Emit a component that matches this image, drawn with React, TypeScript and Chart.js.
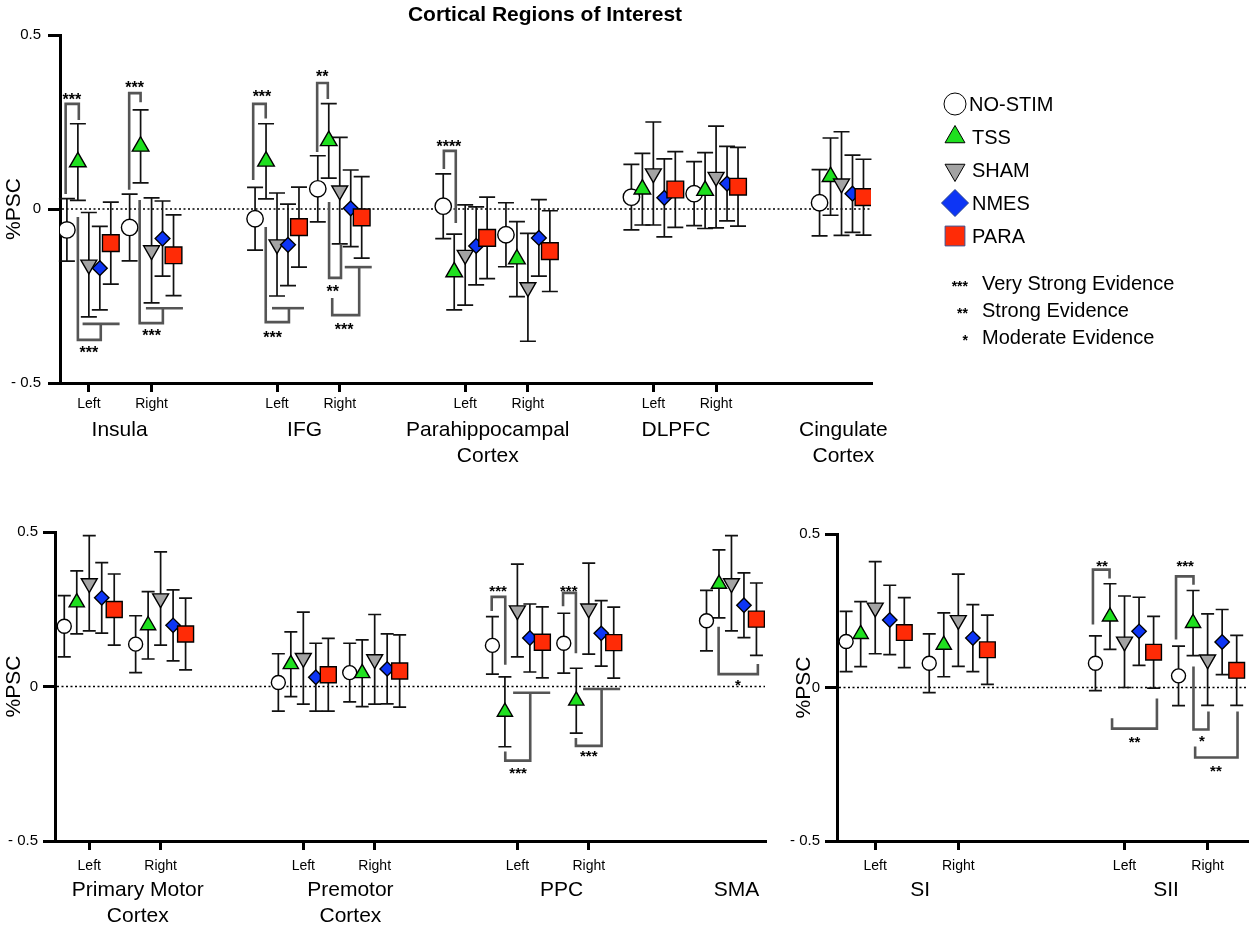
import React, { useEffect, useRef } from 'react';
import { Chart, registerables } from 'chart.js';
import { drawPoint } from 'chart.js/helpers';

Chart.register(...registerables);

const FONT = 'Arial, "Liberation Sans", Helvetica, sans-serif';

// ---------------- series / shared ----------------
const SERIES_NAMES = ['NO-STIM', 'TSS', 'SHAM', 'NMES', 'PARA'];
const EVIDENCE_STARS = ['***', '**', '*'];
const EVIDENCE_LABELS = ['Very Strong Evidence', 'Strong Evidence', 'Moderate Evidence'];
const Y_TICK_VALUES = [-0.5, 0, 0.5];
const Y_TICK_LABELS = ['- 0.5', '0', '0.5'];
const TITLE = 'Cortical Regions of Interest';

// ---------------- top panel (cortical) ----------------
const TOP_CATEGORY_POS = [0, 1, 3, 4, 6, 7, 9, 10, 12];
const TOP_TICK_POS = [0, 1, 3, 4, 6, 7, 9, 10];
const TOP_TICK_LABELS = ['Left', 'Right', 'Left', 'Right', 'Left', 'Right', 'Left', 'Right'];
const TOP_REGIONS = ['Insula', 'IFG', 'Parahippocampal\nCortex', 'DLPFC', 'Cingulate\nCortex'];
const TOP_REGION_POS = [0.49, 3.44, 6.36, 9.36, 12.03];
const TOP_NOSTIM = [-0.06, -0.053, -0.028, 0.058, 0.008, -0.074, 0.034, 0.044, 0.018];
const TOP_NOSTIM_SEM = [0.09, 0.096, 0.09, 0.095, 0.093, 0.092, 0.094, 0.092, 0.095];
const TOP_TSS = [0.135, 0.18, 0.137, 0.196, -0.181, -0.144, 0.057, 0.053, 0.093];
const TOP_TSS_SEM = [0.11, 0.105, 0.108, 0.107, 0.109, 0.108, 0.103, 0.109, 0.111];
const TOP_SHAM = [-0.16, -0.119, -0.102, 0.053, -0.132, -0.225, 0.102, 0.092, 0.073];
const TOP_SHAM_SEM = [0.15, 0.151, 0.148, 0.153, 0.144, 0.155, 0.148, 0.146, 0.149];
const TOP_NMES = [-0.17, -0.085, -0.103, 0.002, -0.106, -0.083, 0.032, 0.073, 0.044];
const TOP_NMES_SEM = [0.12, 0.108, 0.117, 0.11, 0.112, 0.11, 0.112, 0.107, 0.111];
const TOP_PARA = [-0.098, -0.133, -0.052, -0.024, -0.083, -0.121, 0.056, 0.064, 0.034];
const TOP_PARA_SEM = [0.118, 0.116, 0.115, 0.117, 0.117, 0.116, 0.109, 0.113, 0.109];
const TOP_BRACKETS = [
  { lines: [[[-0.37, 0.043], [-0.37, 0.302], [-0.16, 0.302], [-0.16, 0.256]]], stars: '***', at: [-0.27, 0.325] },
  { lines: [[[-0.175, -0.023], [-0.175, -0.376], [0.19, -0.376], [0.19, -0.33]], [[-0.1, -0.33], [0.49, -0.33]]], stars: '***', at: [0.0, -0.402] },
  { lines: [[[0.643, 0.055], [0.643, 0.333], [0.825, 0.333], [0.825, 0.307]]], stars: '***', at: [0.73, 0.359] },
  { lines: [[[0.81, 0.026], [0.81, -0.328], [1.18, -0.328], [1.18, -0.285]], [[0.91, -0.285], [1.5, -0.285]]], stars: '***', at: [1.0, -0.353] },
  { lines: [[[2.62, 0.083], [2.62, 0.302], [2.82, 0.302], [2.82, 0.26]]], stars: '***', at: [2.76, 0.333] },
  { lines: [[[2.82, -0.052], [2.82, -0.325], [3.19, -0.325], [3.19, -0.285]], [[2.92, -0.285], [3.43, -0.285]]], stars: '***', at: [2.93, -0.359] },
  { lines: [[[3.64, 0.164], [3.64, 0.362], [3.81, 0.362], [3.81, 0.316]]], stars: '**', at: [3.72, 0.39] },
  { lines: [[[3.83, 0.02], [3.83, -0.198], [4.02, -0.198], [4.02, -0.1]]], stars: '**', at: [3.89, -0.227] },
  { lines: [[[3.88, -0.256], [3.88, -0.305], [4.31, -0.305], [4.31, -0.167]], [[4.08, -0.167], [4.51, -0.167]]], stars: '***', at: [4.07, -0.336] },
  { lines: [[[5.66, 0.115], [5.66, 0.167], [5.85, 0.167], [5.85, -0.04]]], stars: '****', at: [5.74, 0.19] },
];

// ---------------- bottom-left panel (motor / parietal) ----------------
const MOTOR_CATEGORY_POS = [0, 1, 3, 4, 6, 7, 9];
const MOTOR_TICK_POS = [0, 1, 3, 4, 6, 7];
const MOTOR_TICK_LABELS = ['Left', 'Right', 'Left', 'Right', 'Left', 'Right'];
const MOTOR_REGIONS = ['Primary Motor\nCortex', 'Premotor\nCortex', 'PPC', 'SMA'];
const MOTOR_REGION_POS = [0.68, 3.66, 6.62, 9.07];
const MOTOR_NOSTIM = [0.195, 0.137, 0.013, 0.045, 0.133, 0.14, 0.213];
const MOTOR_NOSTIM_SEM = [0.099, 0.092, 0.093, 0.095, 0.093, 0.097, 0.098];
const MOTOR_TSS = [0.272, 0.198, 0.072, 0.043, -0.082, -0.046, 0.332];
const MOTOR_TSS_SEM = [0.102, 0.109, 0.105, 0.108, 0.113, 0.105, 0.11];
const MOTOR_SHAM = [0.334, 0.285, 0.092, 0.088, 0.246, 0.252, 0.334];
const MOTOR_SHAM_SEM = [0.154, 0.151, 0.149, 0.145, 0.15, 0.147, 0.154];
const MOTOR_NMES = [0.287, 0.198, 0.03, 0.057, 0.157, 0.172, 0.263];
const MOTOR_NMES_SEM = [0.114, 0.115, 0.11, 0.113, 0.11, 0.106, 0.105];
const MOTOR_PARA = [0.249, 0.17, 0.038, 0.05, 0.143, 0.142, 0.218];
const MOTOR_PARA_SEM = [0.115, 0.116, 0.118, 0.117, 0.115, 0.115, 0.117];
const MOTOR_BRACKETS = [
  { lines: [[[5.64, 0.244], [5.64, 0.29], [5.83, 0.29], [5.83, 0.07]]], stars: '***', at: [5.73, 0.319] },
  { lines: [[[5.83, -0.21], [5.83, -0.24], [6.18, -0.24], [6.18, -0.02]], [[5.94, -0.02], [6.46, -0.02]]], stars: '***', at: [6.01, -0.267] },
  { lines: [[[6.64, 0.26], [6.64, 0.303], [6.82, 0.303], [6.82, 0.108]]], stars: '***', at: [6.72, 0.322] },
  { lines: [[[6.82, -0.167], [6.82, -0.192], [7.18, -0.192], [7.18, -0.008]], [[6.92, -0.008], [7.44, -0.008]]], stars: '***', at: [7.0, -0.215] },
  { lines: [[[8.82, 0.193], [8.82, 0.04], [9.37, 0.04], [9.37, 0.073]]], stars: '*', at: [9.09, 0.015] },
];

// ---------------- bottom-right panel (somatosensory) ----------------
const SOMATO_CATEGORY_POS = [0, 1, 3, 4];
const SOMATO_TICK_POS = [0, 1, 3, 4];
const SOMATO_TICK_LABELS = ['Left', 'Right', 'Left', 'Right'];
const SOMATO_REGIONS = ['SI', 'SII'];
const SOMATO_REGION_POS = [0.54, 3.5];
const SOMATO_NOSTIM = [0.15, 0.079, 0.079, 0.038];
const SOMATO_NOSTIM_SEM = [0.098, 0.096, 0.089, 0.097];
const SOMATO_TSS = [0.174, 0.139, 0.231, 0.21];
const SOMATO_TSS_SEM = [0.106, 0.104, 0.107, 0.106];
const SOMATO_SHAM = [0.26, 0.219, 0.149, 0.091];
const SOMATO_SHAM_SEM = [0.15, 0.15, 0.149, 0.149];
const SOMATO_NMES = [0.22, 0.161, 0.183, 0.148];
const SOMATO_NMES_SEM = [0.113, 0.109, 0.111, 0.106];
const SOMATO_PARA = [0.179, 0.123, 0.115, 0.056];
const SOMATO_PARA_SEM = [0.114, 0.113, 0.117, 0.114];
const SOMATO_BRACKETS = [
  { lines: [[[2.62, 0.205], [2.62, 0.384], [2.82, 0.384], [2.82, 0.355]]], stars: '**', at: [2.73, 0.407] },
  { lines: [[[2.85, -0.1], [2.85, -0.134], [3.39, -0.134], [3.39, -0.036]]], stars: '**', at: [3.12, -0.166] },
  { lines: [[[3.62, 0.156], [3.62, 0.362], [3.83, 0.362], [3.83, 0.335]]], stars: '***', at: [3.73, 0.407] },
  { lines: [[[3.83, 0.068], [3.83, -0.137], [4.01, -0.137], [4.01, -0.078]]], stars: '*', at: [3.93, -0.163] },
  { lines: [[[3.85, -0.192], [3.85, -0.228], [4.36, -0.228], [4.36, -0.078]]], stars: '**', at: [4.1, -0.261] },
];

// ---------------- styles ----------------
const SERIES_FILL = ['#ffffff', '#1fe01f', '#a3a3a3', '#0d35f5', '#ff2b06'];
const SERIES_STYLE = ['circle', 'triangle', 'triangle', 'rectRot', 'rect'];
const SERIES_ROTATION = [0, 0, 180, 0, 0];
const SERIES_OFFSET = [-0.35, -0.175, 0, 0.175, 0.35];
const LEGEND_RADII = [11, 11.5, 11.5, 13.5, 14];
const LEGEND_BORDER = ['#000', '#000', '#000', '#23408f', '#3a4f8f'];
const BRACKET_COLOR = '#555555';

function drawStars(ctx: any, text: string, cx: number, cy: number, size: number, align: string = 'center') {
  ctx.font = `bold ${size}px ${FONT}`;
  ctx.textAlign = align;
  ctx.textBaseline = 'alphabetic';
  ctx.fillStyle = '#000';
  ctx.fillText(text, cx, cy + size * 0.57);
}

function extrasPlugin(p: any) {
  return {
    id: 'extras',
    beforeDatasetsDraw(chart: any) {
      const { ctx, chartArea, scales } = chart;
      const x = scales.x, y = scales.y;
      ctx.save();
      // zero reference line
      const y0 = y.getPixelForValue(0);
      ctx.strokeStyle = '#000';
      ctx.lineWidth = 1.5;
      ctx.setLineDash([2, 2.5]);
      ctx.beginPath();
      ctx.moveTo(chartArea.left + 2, y0);
      ctx.lineTo(chartArea.right, y0);
      ctx.stroke();
      ctx.setLineDash([]);
      // error bars
      ctx.strokeStyle = '#111';
      ctx.lineWidth = 1.7;
      p.values.forEach((vals: number[], s: number) => {
        vals.forEach((v: number, i: number) => {
          const px = x.getPixelForValue(p.catPos[i] + SERIES_OFFSET[s]);
          const top = y.getPixelForValue(v + p.sems[s][i]);
          const bot = y.getPixelForValue(v - p.sems[s][i]);
          ctx.beginPath();
          ctx.moveTo(px, top);
          ctx.lineTo(px, bot);
          ctx.moveTo(px - p.capHalf, top);
          ctx.lineTo(px + p.capHalf, top);
          ctx.moveTo(px - p.capHalf, bot);
          ctx.lineTo(px + p.capHalf, bot);
          ctx.stroke();
        });
      });
      ctx.restore();
    },
    afterDatasetsDraw(chart: any) {
      const { ctx, scales } = chart;
      const x = scales.x, y = scales.y;
      ctx.save();
      ctx.strokeStyle = BRACKET_COLOR;
      ctx.lineWidth = 2.6;
      ctx.lineJoin = 'miter';
      ctx.lineCap = 'butt';
      p.brackets.forEach((b: any) => {
        b.lines.forEach((line: number[][]) => {
          ctx.beginPath();
          line.forEach(([vx, vy], k) => {
            const px = x.getPixelForValue(vx);
            const py = y.getPixelForValue(vy);
            if (k === 0) ctx.moveTo(px, py); else ctx.lineTo(px, py);
          });
          ctx.stroke();
        });
        drawStars(ctx, b.stars, x.getPixelForValue(b.at[0]), y.getPixelForValue(b.at[1]), p.starSize);
      });
      ctx.restore();
    },
    afterDraw(chart: any) {
      const { ctx, chartArea, scales } = chart;
      const x = scales.x;
      ctx.save();
      ctx.fillStyle = '#000';
      ctx.font = `21px ${FONT}`;
      ctx.textAlign = 'center';
      ctx.textBaseline = 'middle';
      p.regions.forEach((label: string, r: number) => {
        const px = x.getPixelForValue(p.regionPos[r]);
        label.split('\n').forEach((ln, k) => {
          ctx.fillText(ln, px, chartArea.bottom + p.regionDy + k * 26);
        });
      });
      if (p.title) {
        ctx.font = `bold 21px ${FONT}`;
        ctx.fillText(p.title, 545, 15);
      }
      if (p.legend) {
        SERIES_NAMES.forEach((name, s) => {
          const cy = 104 + s * 33;
          ctx.fillStyle = SERIES_FILL[s];
          ctx.strokeStyle = LEGEND_BORDER[s];
          drawPoint(ctx, { pointStyle: SERIES_STYLE[s], rotation: SERIES_ROTATION[s], radius: LEGEND_RADII[s], borderWidth: 1.5 } as any, 955, cy);
          ctx.fillStyle = '#000';
          ctx.font = `20px ${FONT}`;
          ctx.textAlign = 'left';
          ctx.textBaseline = 'middle';
          ctx.fillText(name, s === 0 ? 969 : 972, cy + 1);
        });
        EVIDENCE_LABELS.forEach((label, e) => {
          const cy = 283 + e * 27;
          drawStars(ctx, EVIDENCE_STARS[e], 968, cy, 14, 'right');
          ctx.font = `20px ${FONT}`;
          ctx.textAlign = 'left';
          ctx.textBaseline = 'middle';
          ctx.fillText(label, 982, cy + 1);
        });
      }
      ctx.restore();
    },
  };
}

function makeConfig(p: any): any {
  const datasets = SERIES_NAMES.map((name, s) => ({
    label: name,
    data: p.values[s].map((v: number, i: number) => ({ x: p.catPos[i] + SERIES_OFFSET[s], y: v })),
    pointStyle: SERIES_STYLE[s],
    pointRotation: SERIES_ROTATION[s],
    pointRadius: p.radii[s],
    pointHoverRadius: p.radii[s],
    pointBackgroundColor: SERIES_FILL[s],
    pointBorderColor: '#000',
    pointBorderWidth: 1.4,
    order: SERIES_NAMES.length - s,
  }));
  return {
    type: 'scatter',
    data: { datasets },
    options: {
      responsive: false,
      animation: false,
      events: [],
      layout: { padding: p.pad },
      plugins: { legend: { display: false }, tooltip: { enabled: false } },
      scales: {
        x: {
          type: 'linear',
          min: p.xMin,
          max: p.xMax,
          afterBuildTicks: (axis: any) => { axis.ticks = p.tickPos.map((v: number) => ({ value: v })); },
          afterFit: (axis: any) => { axis.height = p.xAxisH; },
          ticks: {
            callback: (_v: any, i: number) => p.tickLabels[i],
            font: { size: 14, family: FONT },
            color: '#000',
            padding: p.xTickPad,
            maxRotation: 0,
            autoSkip: false,
          },
          grid: { display: true, drawOnChartArea: false, drawTicks: true, tickLength: 9, color: '#000', lineWidth: 3 },
          border: { display: true, color: '#000', width: 3 },
        },
        y: {
          type: 'linear',
          min: -0.5,
          max: 0.5,
          afterBuildTicks: (axis: any) => { axis.ticks = Y_TICK_VALUES.map((v) => ({ value: v })); },
          afterFit: (axis: any) => { axis.width = p.yAxisW; },
          ticks: {
            callback: (_v: any, i: number) => Y_TICK_LABELS[i],
            font: { size: 15, family: FONT },
            color: '#000',
            padding: p.yTickPad,
          },
          grid: { display: true, drawOnChartArea: false, drawTicks: true, tickLength: 12, color: '#000', lineWidth: 3 },
          border: { display: true, color: '#000', width: 3 },
          title: { display: true, text: '%PSC', font: { size: 21, family: FONT }, color: '#000', padding: { top: 2, bottom: 0 } },
        },
      },
    },
    plugins: [extrasPlugin(p)],
  };
}

const TOP_PANEL = {
  catPos: TOP_CATEGORY_POS, tickPos: TOP_TICK_POS, tickLabels: TOP_TICK_LABELS,
  regions: TOP_REGIONS, regionPos: TOP_REGION_POS,
  values: [TOP_NOSTIM, TOP_TSS, TOP_SHAM, TOP_NMES, TOP_PARA],
  sems: [TOP_NOSTIM_SEM, TOP_TSS_SEM, TOP_SHAM_SEM, TOP_NMES_SEM, TOP_PARA_SEM],
  brackets: TOP_BRACKETS,
  xMin: -0.46, xMax: 12.47,
  pad: { left: 0, right: 389, top: 35, bottom: 0 },
  yAxisW: 60, xAxisH: 107, xTickPad: 4, yTickPad: 7,
  radii: [8.2, 9.6, 9.2, 7.4, 11.8], capHalf: 8, starSize: 16, regionDy: 47,
  title: TITLE, legend: true,
};

const MOTOR_PANEL = {
  catPos: MOTOR_CATEGORY_POS, tickPos: MOTOR_TICK_POS, tickLabels: MOTOR_TICK_LABELS,
  regions: MOTOR_REGIONS, regionPos: MOTOR_REGION_POS,
  values: [MOTOR_NOSTIM, MOTOR_TSS, MOTOR_SHAM, MOTOR_NMES, MOTOR_PARA],
  sems: [MOTOR_NOSTIM_SEM, MOTOR_TSS_SEM, MOTOR_SHAM_SEM, MOTOR_NMES_SEM, MOTOR_PARA_SEM],
  brackets: MOTOR_BRACKETS,
  xMin: -0.48, xMax: 9.47,
  pad: { left: 0, right: 15, top: 42, bottom: 0 },
  yAxisW: 55, xAxisH: 88, xTickPad: 8, yTickPad: 5,
  radii: [7, 8.8, 9.2, 7.2, 11.3], capHalf: 6.5, starSize: 15, regionDy: 49,
};

const SOMATO_PANEL = {
  catPos: SOMATO_CATEGORY_POS, tickPos: SOMATO_TICK_POS, tickLabels: SOMATO_TICK_LABELS,
  regions: SOMATO_REGIONS, regionPos: SOMATO_REGION_POS,
  values: [SOMATO_NOSTIM, SOMATO_TSS, SOMATO_SHAM, SOMATO_NMES, SOMATO_PARA],
  sems: [SOMATO_NOSTIM_SEM, SOMATO_TSS_SEM, SOMATO_SHAM_SEM, SOMATO_NMES_SEM, SOMATO_PARA_SEM],
  brackets: SOMATO_BRACKETS,
  xMin: -0.46, xMax: 4.48,
  pad: { left: 10, right: 8, top: 44, bottom: 0 },
  yAxisW: 47, xAxisH: 88, xTickPad: 8, yTickPad: 5,
  radii: [7, 8.8, 9.2, 7.2, 11.1], capHalf: 6.5, starSize: 15, regionDy: 49,
};

export default function App() {
  const topRef = useRef<HTMLCanvasElement>(null);
  const motorRef = useRef<HTMLCanvasElement>(null);
  const somatoRef = useRef<HTMLCanvasElement>(null);

  useEffect(() => {
    document.body.style.margin = '0';
    document.body.style.background = '#fff';
    const charts = [
      new Chart(topRef.current as HTMLCanvasElement, makeConfig(TOP_PANEL)),
      new Chart(motorRef.current as HTMLCanvasElement, makeConfig(MOTOR_PANEL)),
      new Chart(somatoRef.current as HTMLCanvasElement, makeConfig(SOMATO_PANEL)),
    ];
    return () => charts.forEach((c) => c.destroy());
  }, []);

  return (
    <div style={{ position: 'relative', width: 1260, height: 929, background: '#fff', overflow: 'hidden' }}>
      <canvas ref={topRef} width={1260} height={490} style={{ position: 'absolute', left: 0, top: 0 }} />
      <canvas ref={motorRef} width={780} height={439} style={{ position: 'absolute', left: 0, top: 490 }} />
      <canvas ref={somatoRef} width={480} height={439} style={{ position: 'absolute', left: 780, top: 490 }} />
    </div>
  );
}
